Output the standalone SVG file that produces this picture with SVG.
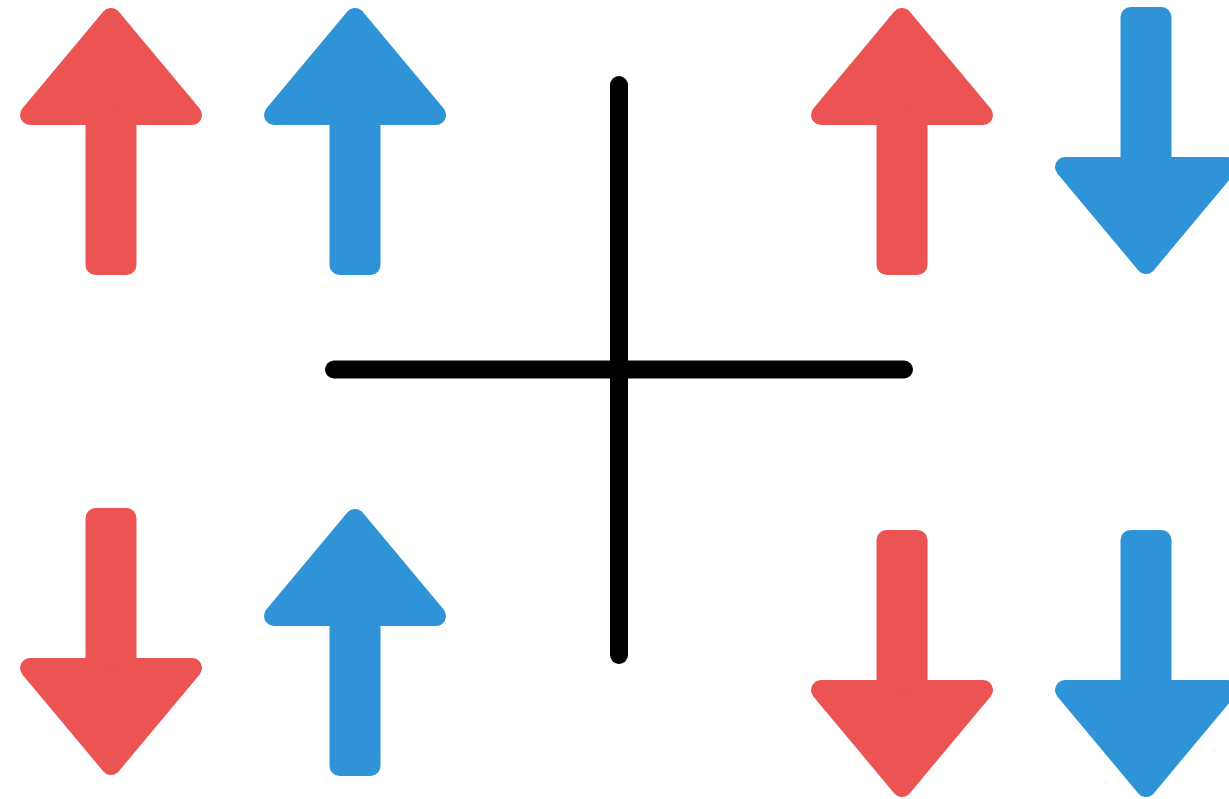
<svg xmlns="http://www.w3.org/2000/svg" xmlns:xlink="http://www.w3.org/1999/xlink" width="1229" height="799" viewBox="0 0 1229 799">
  <style>
    .red { color: #EC5454; }
    .blue { color: #2E93D7; }
    .axis { stroke: #000; stroke-width: 18; stroke-linecap: round; fill: none; }
  </style>
  <defs>
    <path id="arrow" d="M0,10 L81,107 L15.5,107 L15.5,257 L-15.5,257 L-15.5,107 L-81,107 Z" fill="currentColor" stroke="currentColor" stroke-width="20" stroke-linejoin="round"/>
  </defs>
  <rect width="1229" height="799" fill="#fff"/>
  <g id="connectors">
    <line class="axis" x1="619" y1="85" x2="619" y2="655"/>
    <line class="axis" x1="334" y1="369.5" x2="904" y2="369.5"/>
  </g>
  <g id="arrow-tl-red"><use xlink:href="#arrow" href="#arrow" class="red" transform="translate(111,8)"/></g>
  <g id="arrow-tl-blue"><use xlink:href="#arrow" href="#arrow" class="blue" transform="translate(355,8)"/></g>
  <g id="arrow-tr-red"><use xlink:href="#arrow" href="#arrow" class="red" transform="translate(902,8)"/></g>
  <g id="arrow-tr-blue"><use xlink:href="#arrow" href="#arrow" class="blue" transform="translate(1146,274) scale(1,-1)"/></g>
  <g id="arrow-bl-red"><use xlink:href="#arrow" href="#arrow" class="red" transform="translate(111,775) scale(1,-1)"/></g>
  <g id="arrow-bl-blue"><use xlink:href="#arrow" href="#arrow" class="blue" transform="translate(355,509)"/></g>
  <g id="arrow-br-red"><use xlink:href="#arrow" href="#arrow" class="red" transform="translate(902,797) scale(1,-1)"/></g>
  <g id="arrow-br-blue"><use xlink:href="#arrow" href="#arrow" class="blue" transform="translate(1146,797) scale(1,-1)"/></g>
</svg>
